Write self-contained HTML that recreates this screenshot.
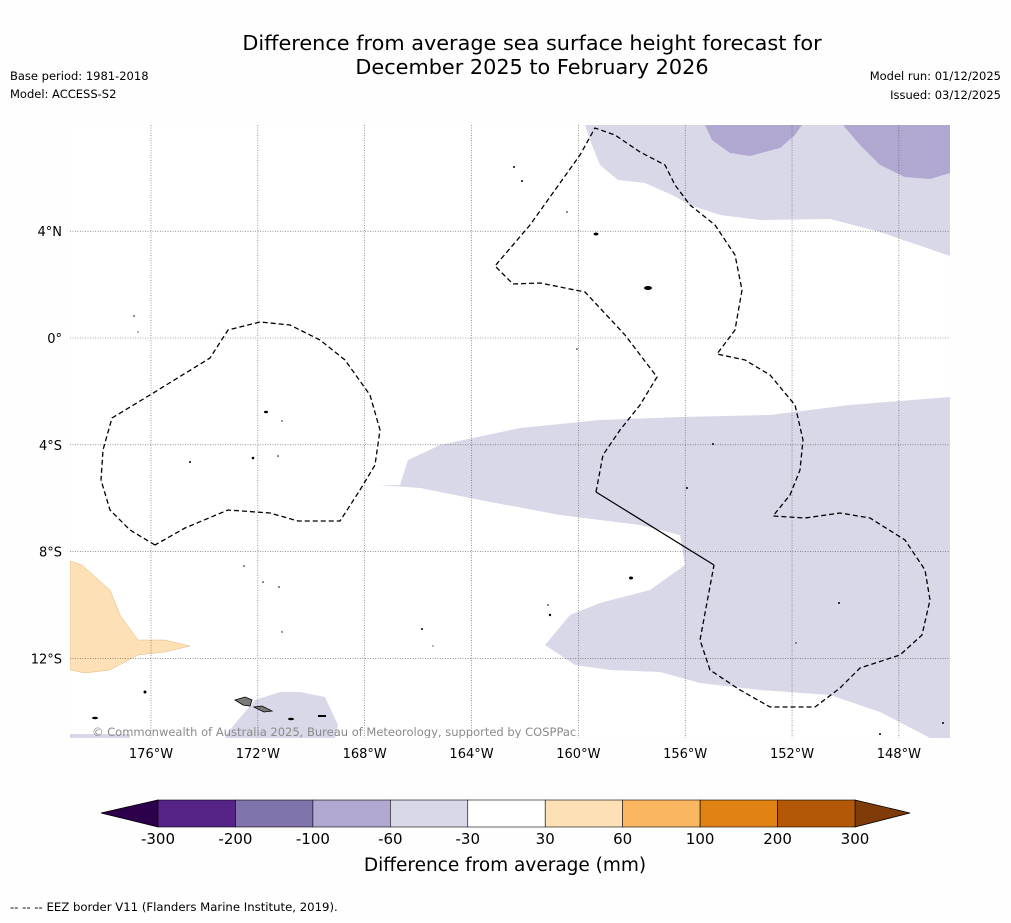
<!DOCTYPE html>
<html><head><meta charset="utf-8"><style>
body{margin:0;background:#fff;width:1011px;height:919px;overflow:hidden;font-family:"DejaVu Sans",sans-serif}
</style></head><body>
<svg id="chart" width="1011" height="919" viewBox="0 0 1011 919" xmlns="http://www.w3.org/2000/svg" font-family="DejaVu Sans, sans-serif">
<rect width="1011" height="919" fill="#fefefe"/>
<text x="532" y="50" font-size="20.8" text-anchor="middle">Difference from average sea surface height forecast for</text>
<text x="532" y="74" font-size="20.8" text-anchor="middle">December 2025 to February 2026</text>
<text x="10" y="80" font-size="11.5">Base period: 1981-2018</text>
<text x="10" y="98" font-size="11.5">Model: ACCESS-S2</text>
<text x="1001" y="80" font-size="11.5" text-anchor="end">Model run: 01/12/2025</text>
<text x="1001" y="99" font-size="11.5" text-anchor="end">Issued: 03/12/2025</text>
<g>
<clipPath id="mc"><rect x="70" y="125" width="880" height="613"/></clipPath>
<g clip-path="url(#mc)">
<rect x="70" y="125" width="880" height="613" fill="#fff"/>
<polygon fill="#d8d8e9" points="585,125 590,140 600,165 618,180 645,183 672,195 690,205 720,215 760,220 830,219 880,232 950,256 950,125"/>
<polygon fill="#b0a8d0" points="705,125 712,140 730,153 750,156 780,148 795,135 802,125"/>
<polygon fill="#b0a8d0" points="843,125 860,145 880,165 905,177 930,179 950,173 950,125"/>
<polygon fill="#d8d8e9" points="380,485 400,485 408,460 440,445 520,428 600,420 680,417 770,415 850,405 950,397 950,738 930,738 880,712 830,695 760,690 700,683 660,672 610,670 575,665 545,645 570,615 600,603 650,590 685,565 680,535 640,525 560,515 480,500 420,488"/>
<polygon fill="#d8d8e9" points="228,732 255,700 280,692 300,692 325,697 338,725 335,738 225,738"/>
<polygon fill="#fde0b6" stroke="#e0b880" stroke-width="0.5" points="70,561 82,565 110,590 120,615 138,640 165,640 190,646 165,652 138,655 110,670 85,673 70,670"/>
<rect x="70" y="734" width="60" height="4" fill="#d8d8e9"/>
<g id="grid" stroke="#555" stroke-width="0.6" stroke-dasharray="1,1.5"></g>
<polyline fill="none" stroke="#000" stroke-width="1.3" stroke-dasharray="5,3" points="155,545 130,530 110,510 101,480 103,450 112,418 150,395 210,358 228,330 260,322 290,325 320,340 345,360 370,395 380,430 375,465 360,490 340,521 298,521 270,513 228,510 185,528 155,545"/>
<polyline fill="none" stroke="#000" stroke-width="1.3" stroke-dasharray="5,3" points="596,492 603,455 620,430 640,405 657,377 625,335 585,292 540,283 513,284 495,266 530,225 555,190 580,155 595,128 615,135 640,152 665,165 675,185 690,205 715,225 735,255 742,290 735,330 717,354 745,360 770,375 795,405 803,440 800,470 790,495 773,516 805,518 840,513 870,518 905,540 925,570 930,600 922,635 900,655 860,668 840,688 815,707 770,707 740,690 710,670 700,640 714,565"/>
<line x1="596" y1="492" x2="714" y2="565" stroke="#000" stroke-width="1.2"/>
<g fill="#000">
<circle cx="514" cy="167" r="1"/><circle cx="522" cy="181" r="1"/><circle cx="567" cy="212" r="0.8"/>
<ellipse cx="596" cy="234" rx="2.5" ry="1.5"/><ellipse cx="648" cy="288" rx="4" ry="2"/>
<circle cx="134" cy="316" r="0.8"/><circle cx="138" cy="332" r="0.6"/><circle cx="577" cy="349" r="0.8"/>
<ellipse cx="266" cy="412" rx="2" ry="1.2"/><circle cx="282" cy="421" r="0.7"/><circle cx="190" cy="462" r="1"/>
<circle cx="253" cy="458" r="1.3"/><circle cx="278" cy="456" r="0.8"/><circle cx="713" cy="444" r="1"/>
<circle cx="687" cy="488" r="1"/><circle cx="244" cy="566" r="0.8"/><circle cx="263" cy="582" r="0.8"/><circle cx="279" cy="587" r="0.8"/>
<ellipse cx="631" cy="578" rx="2" ry="1.5"/><circle cx="548" cy="605" r="0.8"/><circle cx="550" cy="615" r="1.2"/>
<circle cx="839" cy="603" r="1"/><circle cx="422" cy="629" r="1"/><circle cx="282" cy="632" r="0.7"/>
<circle cx="433" cy="646" r="0.6"/><circle cx="796" cy="643" r="0.7"/><circle cx="145" cy="692" r="1.5"/>
<ellipse cx="95" cy="718" rx="3" ry="1.3"/><ellipse cx="291" cy="719" rx="3" ry="1.3"/><rect x="318" y="715" width="8" height="2"/>
<circle cx="880" cy="734" r="1"/><circle cx="943" cy="723" r="1"/>
</g>
<polygon fill="#7a7a7a" stroke="#000" stroke-width="0.8" points="235,700 245,697 252,700 250,706 243,705"/>
<polygon fill="#7a7a7a" stroke="#000" stroke-width="0.8" points="254,707 262,706 272,711 264,712"/>
<text x="92" y="736" font-size="11.5" fill="#8a8a8a">© Commonwealth of Australia 2025, Bureau of Meteorology, supported by COSPPac</text>
</g>
</g>
<g id="axes" font-size="13"></g>
<g id="cbar"></g>
<text x="505" y="871" font-size="18.5" text-anchor="middle">Difference from average (mm)</text>
<text x="10" y="911" font-size="11.7">--  --  -- EEZ border V11 (Flanders Marine Institute, 2019).</text>
</svg>
<script>
const lonTicks = [-176, -172, -168, -164, -160, -156, -152, -148];
const latTicks = [4, 0, -4, -8, -12];
const cbarBounds = [-300, -200, -100, -60, -30, 30, 60, 100, 200, 300];
const cbarColors = ["#562486", "#8073ac", "#b0a8d0", "#d8d8e9", "#ffffff", "#fde0b6", "#fbb661", "#e08214", "#b35806"];
const cbarEnds = ["#2d004b", "#7f3b08"];
const NS = "http://www.w3.org/2000/svg";
const lonX = l => 151 + (l + 176) * 26.71;
const latY = l => 338 - l * 26.7;
function mk(t, a, p) { const e = document.createElementNS(NS, t); for (const k in a) e.setAttribute(k, a[k]); p.appendChild(e); return e; }
const grid = document.getElementById('grid'), axes = document.getElementById('axes');
lonTicks.forEach(l => {
  const x = lonX(l);
  const g = mk('line', {x1: x, x2: x, y1: 125, y2: 738}, grid);
  
  
  const t = mk('text', {x: x, y: 758, 'text-anchor': 'middle'}, axes);
  t.textContent = Math.abs(l) + '°W';
  
  
});
latTicks.forEach(l => {
  const y = latY(l);
  const g = mk('line', {x1: 70, x2: 950, y1: y, y2: y}, grid);
  
  
  const t = mk('text', {x: 62, y: y + 5, 'text-anchor': 'end'}, axes);
  t.textContent = l === 0 ? '0°' : Math.abs(l) + '°' + (l > 0 ? 'N' : 'S');
  
  
});
const cb = document.getElementById('cbar');
const x0 = 158, x1 = 855, n = cbarColors.length, w = (x1 - x0) / n;
const tl = mk('polygon', {points: `101,813 ${x0},800 ${x0},827`, fill: cbarEnds[0], stroke: '#000', 'stroke-width': 0.8}, cb);


const tr = mk('polygon', {points: `910,813 ${x1},800 ${x1},827`, fill: cbarEnds[1], stroke: '#000', 'stroke-width': 0.8}, cb);


cbarColors.forEach((c, i) => {
  const r = mk('rect', {x: x0 + i * w, y: 800, width: w, height: 27, fill: c, stroke: '#000', 'stroke-width': 0.6}, cb);
  
  
});
cbarBounds.forEach((b, i) => {
  const t = mk('text', {x: x0 + i * w, y: 844, 'text-anchor': 'middle', 'font-size': 15}, cb);
  t.textContent = b;
  
  
});
</script>
</body></html>
